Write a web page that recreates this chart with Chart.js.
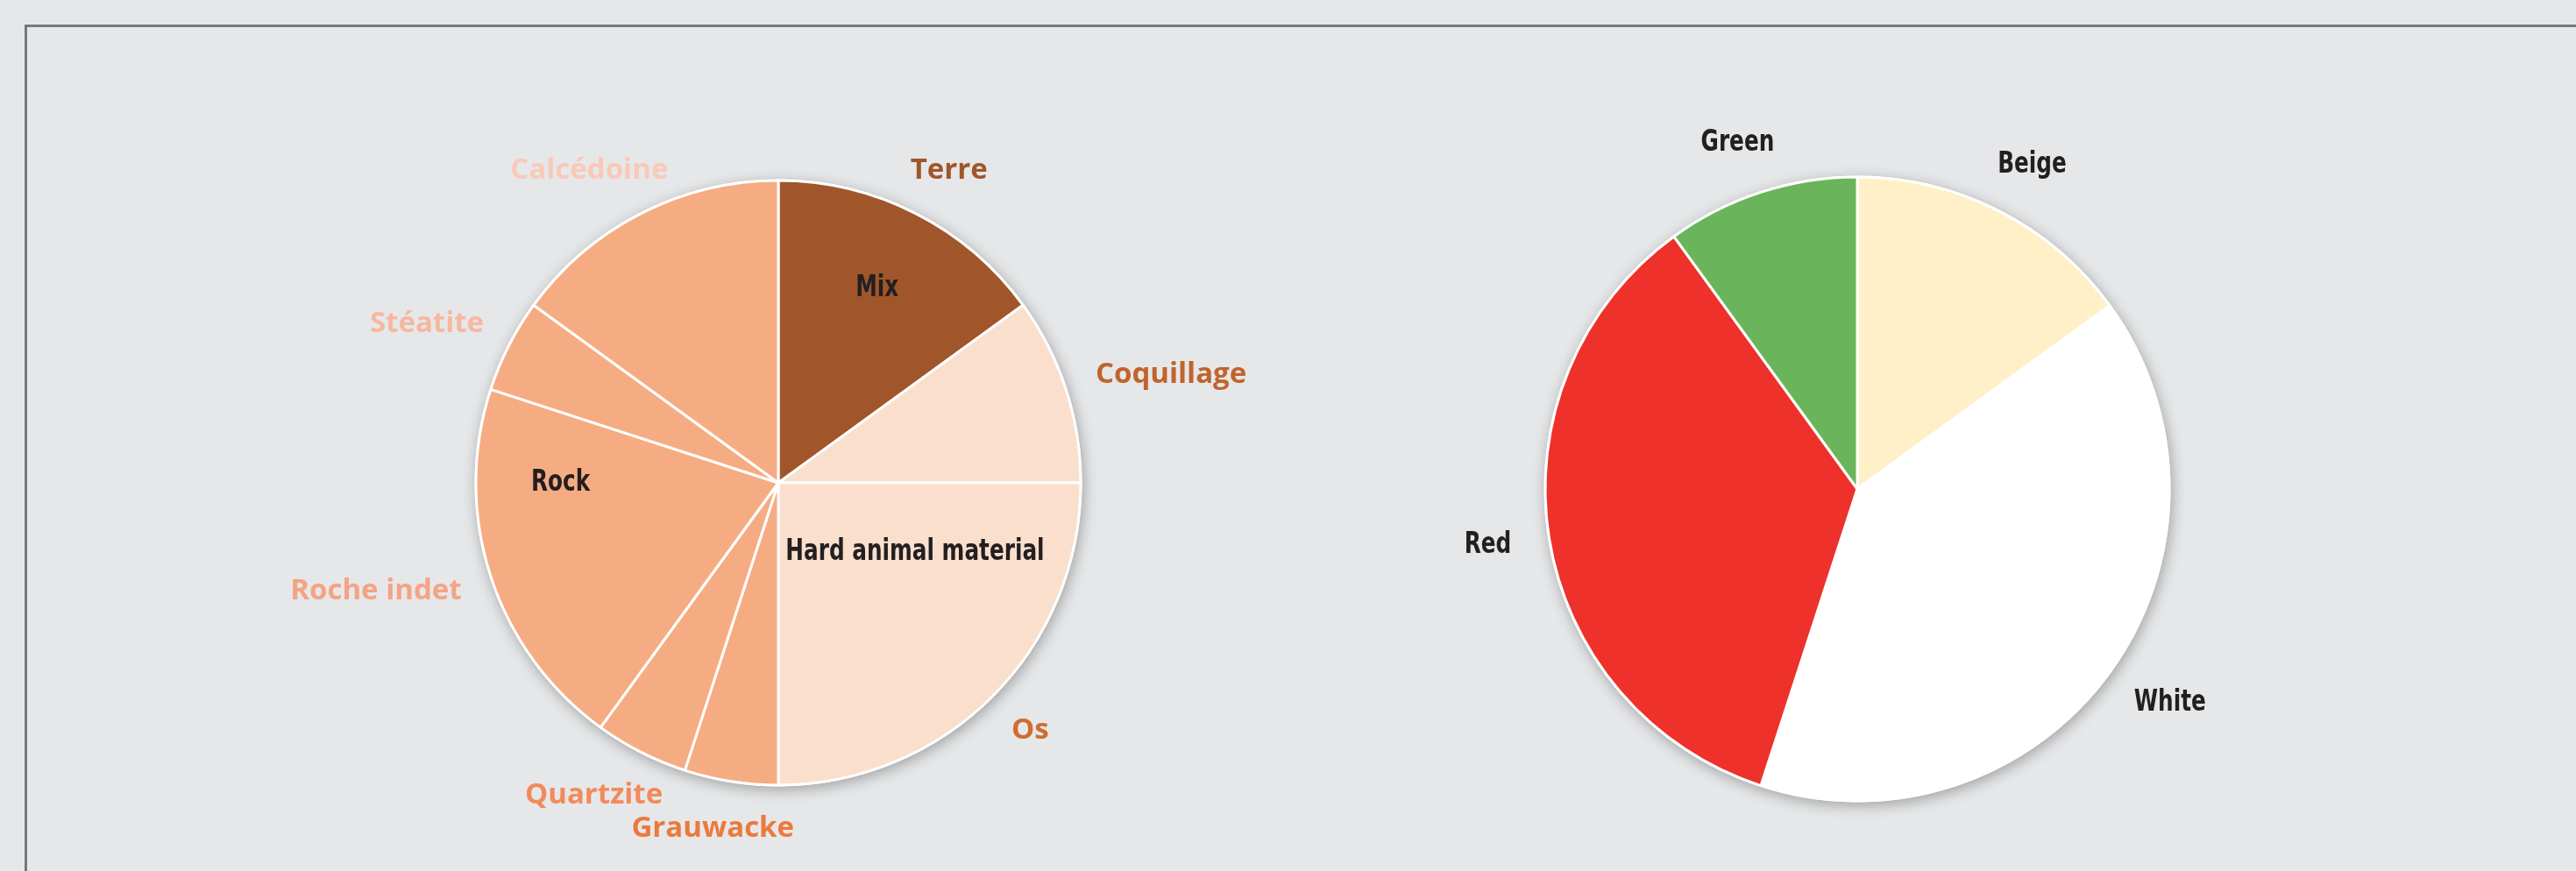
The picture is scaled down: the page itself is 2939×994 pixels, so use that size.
<!DOCTYPE html>
<meta charset="utf-8">
<html lang="en">
<head>
  <title>materials and colours</title>
  <style type="text/css">
  body { margin: 0; width: 2939px; height: 994px; background: #e6e7e8; overflow: hidden; position: relative; }
  .frame { position: absolute; left: 28px; top: 28px; width: 3000px; height: 1000px;
           border-left: 3px solid #77787b; border-top: 3px solid #77787b; }
  .box { position: absolute; top: 0; height: 994px; }
  #boxA { left: 0; width: 1470px; }
  #boxB { left: 1470px; width: 1469px; }
  </style>
</head>
<body>

<div class="frame"></div>
<div class="box" id="boxA"><canvas id="pieMaterial"></canvas></div>
<div class="box" id="boxB"><canvas id="pieColour"></canvas></div>

<script src="https://cdn.jsdelivr.net/npm/chart.js"></script>

<script>

  // ---- data ----
  const matLabels = ['Terre', 'Coquillage', 'Os', 'Grauwacke', 'Quartzite', 'Roche indet', 'Stéatite', 'Calcédoine'];
  const matValues = [15, 10, 25, 5, 5, 20, 5, 15];
  const groupNames = ['Mix', 'Hard animal material', 'Rock'];
  const groupMembers = [[0], [1, 2], [3, 4, 5, 6, 7]];

  const colLabels = ['Beige', 'White', 'Red', 'Green'];
  const colValues = [15, 40, 35, 10];

  // ---- styles ----
  const matFill = ['#a0562a', '#fadfcd', '#fadfcd', '#f6ac82', '#f6ac82', '#f6ac82', '#f6ac82', '#f6ac82'];
  const matText = ['#a0562a', '#c0642e', '#cf6c2f', '#ea7a3c', '#f28a5c', '#f4a385', '#f6b8a2', '#f9c9b8'];
  const colFill = ['#fff0c8', '#ffffff', '#ee312b', '#6ab55b'];

  const OPEN = { font: "bold 33px 'Open Sans', sans-serif", sx: 1 };
  // no condensed face installed, so squeeze DejaVu Sans Bold into a narrow cut
  const NARROW = { font: "bold 33px 'DejaVu Sans', sans-serif", sx: 0.75 };
  const INK = '#231f20';

  function textW(c, f, s) {
    c.font = f.font;
    return c.measureText(s).width * f.sx;
  }
  function drawText(c, f, s, x, y) {
    c.save();
    c.font = f.font;
    c.translate(x, y);
    c.scale(f.sx, 1);
    c.fillText(s, 0, 0);
    c.restore();
  }

  // soft shadow under the whole disc
  const discShadow = {
    id: 'discShadow',
    beforeDatasetsDraw(chart) {
      const arc = chart.getDatasetMeta(0).data[0];
      if (!arc) return;
      const c = chart.ctx;
      c.save();
      c.shadowColor = 'rgba(0,0,0,0.30)';
      c.shadowBlur = 16;
      c.shadowOffsetX = 2;
      c.shadowOffsetY = 4;
      c.fillStyle = '#ffffff';
      c.beginPath();
      c.arc(arc.x, arc.y, arc.outerRadius + 1.5, 0, Math.PI * 2);
      c.fill();
      c.restore();
    }
  };

  // category names outside the disc, group names inside
  const sliceLabels = {
    id: 'sliceLabels',
    afterDatasetsDraw(chart, args, opts) {
      const c = chart.ctx;
      const arcs = chart.getDatasetMeta(0).data;
      const names = chart.data.labels;
      c.save();
      c.textAlign = 'center';
      c.textBaseline = 'middle';
      arcs.forEach((a, i) => {
        const mid = (a.startAngle + a.endAngle) / 2;
        const w = textW(c, opts.face, names[i]);
        const d = a.outerRadius + opts.gap;
        const x = a.x + d * Math.cos(mid) + (w / 2) * Math.cos(mid);
        const y = a.y + d * Math.sin(mid) + 15 * Math.sin(mid);
        c.fillStyle = opts.colors[i];
        drawText(c, opts.face, names[i], x, y);
      });
      if (opts.groups) {
        c.fillStyle = INK;
        opts.groups.forEach((g, k) => {
          const first = arcs[opts.members[k][0]];
          const last = arcs[opts.members[k][opts.members[k].length - 1]];
          const mid = (first.startAngle + last.endAngle) / 2;
          const r = first.outerRadius;
          const w = textW(c, NARROW, g);
          const sx = Math.abs(Math.cos(mid));
          let d = 0.72 * r;
          if (sx > 0.01) d = Math.min(d, (0.88 * r - w / 2) / sx);
          drawText(c, NARROW, g, first.x + d * Math.cos(mid), first.y + d * Math.sin(mid));
        });
      }
      c.restore();
    }
  };

  function pie(el, labels, values, fills, radius, pad, labelOpts) {
    return new Chart(el, {
      type: 'pie',
      data: {
        labels: labels,
        datasets: [{
          data: values,
          backgroundColor: fills,
          borderColor: '#ffffff',
          borderWidth: 3
        }]
      },
      options: {
        responsive: true,
        maintainAspectRatio: false,
        animation: false,
        events: [],
        radius: radius,
        layout: { padding: pad },
        plugins: {
          legend: { display: false },
          tooltip: { enabled: false },
          sliceLabels: labelOpts
        }
      },
      plugins: [discShadow, sliceLabels]
    });
  }

  // left disc centred at (888, 551), right disc at (2119, 558) in page px
  pie(document.getElementById('pieMaterial'), matLabels, matValues, matFill, 345,
      { left: 888 - 400, right: 1470 - 888 - 400, top: 551 - 400, bottom: 994 - 551 - 400 },
      { face: OPEN, gap: 40, colors: matText, groups: groupNames, members: groupMembers });

  pie(document.getElementById('pieColour'), colLabels, colValues, colFill, 356,
      { left: 649 - 400, right: 1469 - 649 - 400, top: 558 - 400, bottom: 994 - 558 - 400 },
      { face: NARROW, gap: 44, colors: [INK, INK, INK, INK] });

</script>
</body>
</html>
